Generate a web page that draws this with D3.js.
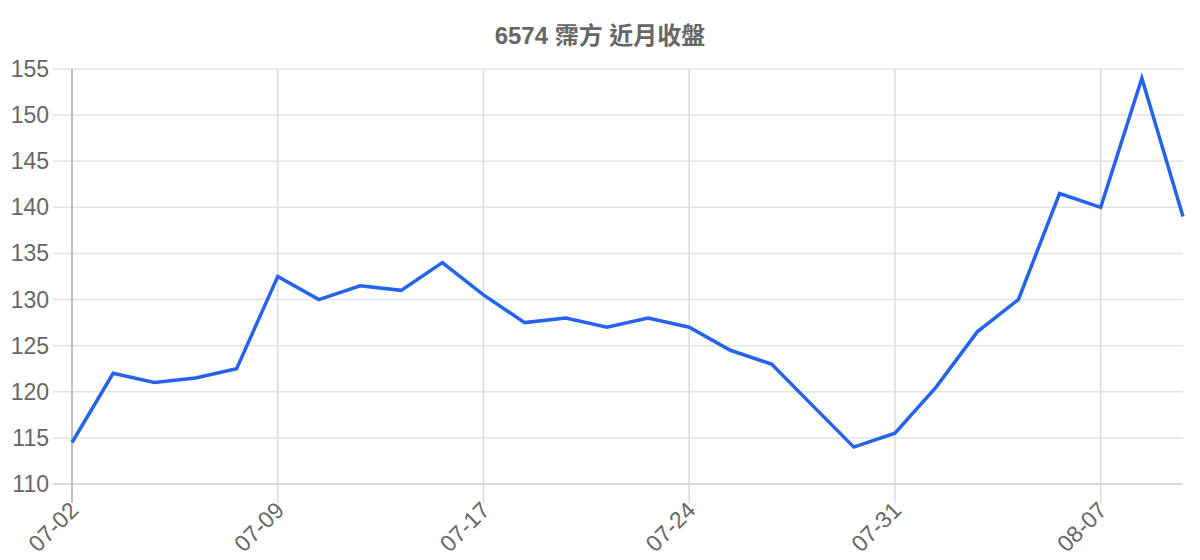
<!DOCTYPE html>
<html>
<head>
<meta charset="utf-8">
<script src="https://cdn.jsdelivr.net/npm/d3@7"></script>
<style>
  body { margin: 0; background: #fff; }
  svg { display: block; font-family: "Liberation Sans", Arial, "Noto Sans CJK TC", sans-serif; }
</style>
</head>
<body>
<script>
// chart data
var chartTitle = "6574 霈方 近月收盤";
var dates = ["07-02","07-03","07-04","07-05","07-08","07-09","07-10","07-11","07-12","07-15",
             "07-17","07-18","07-19","07-22","07-23","07-24","07-25","07-26","07-29","07-30",
             "07-31","08-01","08-02","08-05","08-06","08-07","08-08","08-09"];
var closes = [114.5,122,121,121.5,122.5,132.5,130,131.5,131,134,
              130.5,127.5,128,127,128,127,124.5,123,118.5,114,
              115.5,120.5,126.5,130,141.5,140,154,139];
var yTicks = [110,115,120,125,130,135,140,145,150,155];
var xLabelEvery = 5;

var width = 1200, height = 560;
var plotLeft = 72, plotRight = 1183, plotTop = 69, plotBottom = 484;
var tickLen = 19;

var svg = d3.select("body").append("svg")
    .attr("width", width)
    .attr("height", height);

var x = d3.scalePoint().domain(dates).range([plotLeft, plotRight]);
var y = d3.scaleLinear().domain([110, 155]).range([plotBottom, plotTop]);

var shown = dates.filter(function(d, i){ return i % xLabelEvery == 0; });

// horizontal grid
svg.append("g").selectAll("line")
  .data(yTicks)
  .enter().append("line")
    .attr("x1", plotLeft - tickLen)
    .attr("x2", plotRight)
    .attr("y1", function(d){ return y(d); })
    .attr("y2", function(d){ return y(d); })
    .attr("stroke", function(d){ return d == 110 ? "#cfcfcf" : "#e3e3e3"; })
    .attr("stroke-width", 1.5);

// vertical grid
svg.append("g").selectAll("line")
  .data(shown)
  .enter().append("line")
    .attr("x1", function(d){ return x(d); })
    .attr("x2", function(d){ return x(d); })
    .attr("y1", plotTop)
    .attr("y2", plotBottom + tickLen)
    .attr("stroke", function(d, i){ return i == 0 ? "#aaaaaa" : "#dadada"; })
    .attr("stroke-width", 1.5);

// y labels
svg.append("g").selectAll("text")
  .data(yTicks)
  .enter().append("text")
    .attr("x", 49)
    .attr("y", function(d){ return y(d); })
    .attr("dy", "0.35em")
    .attr("text-anchor", "end")
    .attr("fill", "#666")
    .attr("font-size", 23)
    .text(function(d){ return d; });

// x labels
svg.append("g").selectAll("text")
  .data(shown)
  .enter().append("text")
    .attr("transform", function(d){ return "translate(" + (x(d) - 4) + "," + 500 + ") rotate(-45)"; })
    .attr("text-anchor", "end")
    .attr("dy", "0.72em")
    .attr("fill", "#666")
    .attr("font-size", 23)
    .text(function(d){ return d; });

// line
var line = d3.line()
    .x(function(d, i){ return x(dates[i]); })
    .y(function(d){ return y(d); });

svg.append("path")
    .datum(closes)
    .attr("fill", "none")
    .attr("stroke", "#2563eb")
    .attr("stroke-width", 3.5)
    .attr("stroke-linejoin", "miter")
    .attr("d", line);

// title
svg.append("text")
    .attr("x", 600)
    .attr("y", 44)
    .attr("text-anchor", "middle")
    .attr("fill", "#666")
    .attr("font-size", 24)
    .attr("font-weight", "bold")
    .text(chartTitle);
</script>
</body>
</html>
